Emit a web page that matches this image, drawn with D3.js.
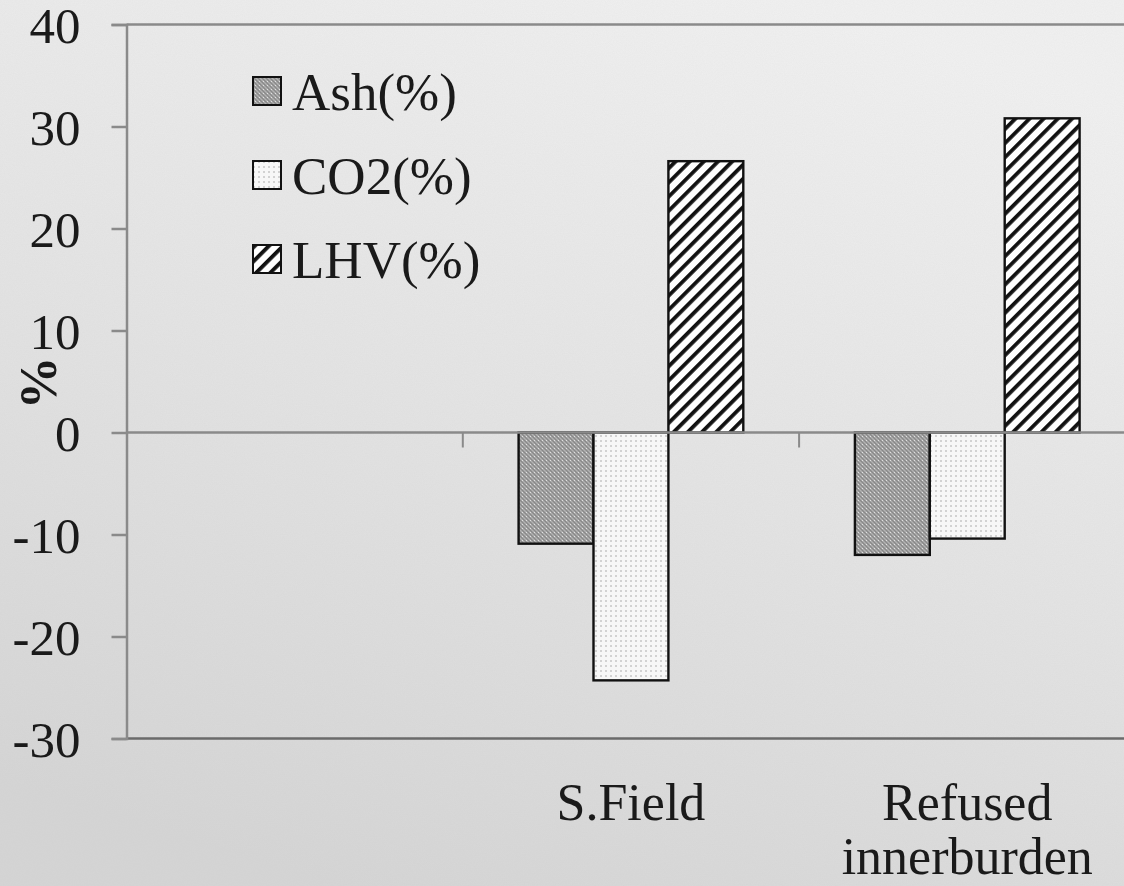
<!DOCTYPE html>
<html>
<head>
<meta charset="utf-8">
<script src="https://cdn.jsdelivr.net/npm/d3@7"></script>
<style>
html,body{margin:0;padding:0;background:#e2e2e2;}
svg{display:block;}
text{font-family:"Liberation Serif","Times New Roman",serif;fill:#1a1a1a;}
</style>
</head>
<body>
<svg id="chart" width="1124" height="886"></svg>
<script>
// ---- data ----
const categories = ["", "S.Field", "Refused innerburden"];
const seriesNames = ["Ash(%)", "CO2(%)", "LHV(%)"];
const ashValues = [null, -10.9, -12.0];
const co2Values = [null, -24.3, -10.4];
const lhvValues = [null, 26.6, 30.8];
const yTicks = [-30, -20, -10, 0, 10, 20, 30, 40];
const yTickLabels = ["-30", "-20", "-10", "0", "10", "20", "30", "40"];
const categoryLines = [[""], ["S.Field"], ["Refused", "innerburden"]];

const W = 1124, H = 886;
const svg = d3.select("#chart");
const defs = svg.append("defs");

// background gradient
const bg = defs.append("linearGradient").attr("id", "bg")
  .attr("x1", "0.7").attr("y1", "0").attr("x2", "0.3").attr("y2", "1");
bg.append("stop").attr("offset", "0").attr("stop-color", "#f1f1f1");
bg.append("stop").attr("offset", "0.5").attr("stop-color", "#e4e4e4");
bg.append("stop").attr("offset", "1").attr("stop-color", "#d5d5d5");
const noise = defs.append("filter").attr("id", "noise").attr("x", 0).attr("y", 0).attr("width", "100%").attr("height", "100%");
noise.append("feTurbulence").attr("type", "fractalNoise").attr("baseFrequency", "0.9").attr("numOctaves", 2).attr("seed", 3).attr("result", "t");
noise.append("feColorMatrix").attr("in", "t").attr("type", "matrix")
  .attr("values", "0 0 0 0 0.5  0 0 0 0 0.5  0 0 0 0 0.5  0 0 0 0.12 0");
svg.append("rect").attr("width", W).attr("height", H).attr("fill", "url(#bg)");
svg.append("rect").attr("width", W).attr("height", H).attr("filter", "url(#noise)");

// patterns
const pAsh = defs.append("pattern").attr("id", "pAsh").attr("patternUnits", "userSpaceOnUse").attr("width", 4).attr("height", 4);
pAsh.append("rect").attr("width", 4).attr("height", 4).attr("fill", "#b2b2b2");
pAsh.append("path").attr("d", "M-1,-1 L5,5 M3,-1 L5,1 M-1,3 L1,5").attr("stroke", "#888").attr("stroke-width", 1.3);
pAsh.append("rect").attr("x", 2).attr("y", 0).attr("width", 1).attr("height", 1).attr("fill", "#e0e0e0");

const pCO2 = defs.append("pattern").attr("id", "pCO2").attr("patternUnits", "userSpaceOnUse").attr("width", 5).attr("height", 5);
pCO2.append("rect").attr("width", 5).attr("height", 5).attr("fill", "#f7f7f7");
pCO2.append("rect").attr("x", 0).attr("y", 0).attr("width", 2).attr("height", 2).attr("fill", "#d2d2d2");

const pLHV = defs.append("pattern").attr("id", "pLHV").attr("patternUnits", "userSpaceOnUse")
  .attr("width", 10).attr("height", 10).attr("patternTransform", "rotate(45)");
pLHV.append("rect").attr("width", 10).attr("height", 10).attr("fill", "#ffffff");
pLHV.append("rect").attr("x", 0).attr("y", 0).attr("width", 3.8).attr("height", 10).attr("fill", "#111");

const fills = ["url(#pAsh)", "url(#pCO2)", "url(#pLHV)"];
const seriesValues = [ashValues, co2Values, lhvValues];

// scales
const plotLeft = 126.5, plotTop = 24.5, plotBottom = 738.5;
const x = d3.scaleBand().domain(categories).range([plotLeft, plotLeft + 3 * 336.3]).padding(0);
const xs = d3.scaleBand().domain(seriesNames).range([0, x.bandwidth()]).paddingInner(0).paddingOuter(0.745);
const y = d3.scaleLinear().domain([-30, 40]).range([plotBottom, plotTop]);

const axisColor = "#8a8a8a";

// top border line
svg.append("line").attr("x1", plotLeft).attr("x2", x.range()[1]).attr("y1", y(40)).attr("y2", y(40))
  .attr("stroke", axisColor).attr("stroke-width", 2.5);

// bars
const rows = [];
categories.forEach((c, i) => seriesNames.forEach((s, j) => {
  const v = seriesValues[j][i];
  if (v !== null) rows.push({c, s, v, j});
}));
svg.append("g").selectAll("rect").data(rows).join("rect")
  .attr("x", d => x(d.c) + xs(d.s))
  .attr("width", xs.bandwidth())
  .attr("y", d => y(Math.max(0, d.v)))
  .attr("height", d => Math.abs(y(d.v) - y(0)))
  .attr("fill", d => fills[d.j])
  .attr("stroke", "#111").attr("stroke-width", 2.4);

// zero line with category boundary ticks
svg.append("line").attr("x1", plotLeft).attr("x2", x.range()[1]).attr("y1", y(0)).attr("y2", y(0))
  .attr("stroke", axisColor).attr("stroke-width", 2.5);
svg.append("g").selectAll("line").data(categories.slice(1)).join("line")
  .attr("x1", d => x(d)).attr("x2", d => x(d))
  .attr("y1", y(0)).attr("y2", y(0) + 15)
  .attr("stroke", axisColor).attr("stroke-width", 2);

// bottom line
svg.append("line").attr("x1", plotLeft).attr("x2", x.range()[1]).attr("y1", y(-30)).attr("y2", y(-30))
  .attr("stroke", "#6a6a6a").attr("stroke-width", 2.5);

// y axis
const yAxis = d3.axisLeft(y).tickValues(yTicks).tickSize(15).tickPadding(31)
  .tickFormat((d, i) => yTickLabels[i]);
const gy = svg.append("g").attr("transform", `translate(${plotLeft},0)`).call(yAxis);
gy.select(".domain").attr("stroke", axisColor).attr("stroke-width", 2.5);
gy.selectAll(".tick line").attr("stroke", axisColor).attr("stroke-width", 2.5);
gy.selectAll(".tick text").attr("font-size", 51).attr("font-family", "Liberation Serif")
  .attr("fill", "#1a1a1a").attr("dy", "0.35em");

// y label
svg.append("text").attr("transform", `translate(56,383) rotate(-90)`)
  .attr("text-anchor", "middle").attr("font-size", 53).attr("font-weight", "bold").text("%");

// category labels
const gl = svg.append("g");
categories.forEach((c, i) => {
  const t = gl.append("text").attr("x", x(c) + x.bandwidth() / 2).attr("y", 820)
    .attr("text-anchor", "middle").attr("font-size", 52);
  categoryLines[i].forEach((ln, k) => {
    t.append("tspan").attr("x", x(c) + x.bandwidth() / 2).attr("dy", k === 0 ? 0 : 54).text(ln);
  });
});

// legend
const lg = svg.append("g").attr("transform", "translate(253,77)");
const li = lg.selectAll("g").data(seriesNames).join("g")
  .attr("transform", (d, i) => `translate(0,${i * 84})`);
li.append("rect").attr("width", 28).attr("height", 28)
  .attr("fill", (d, i) => fills[i]).attr("stroke", "#111").attr("stroke-width", 2);
li.append("text").attr("x", 39).attr("y", 33).attr("font-size", 53).text(d => d);
</script>
</body>
</html>
